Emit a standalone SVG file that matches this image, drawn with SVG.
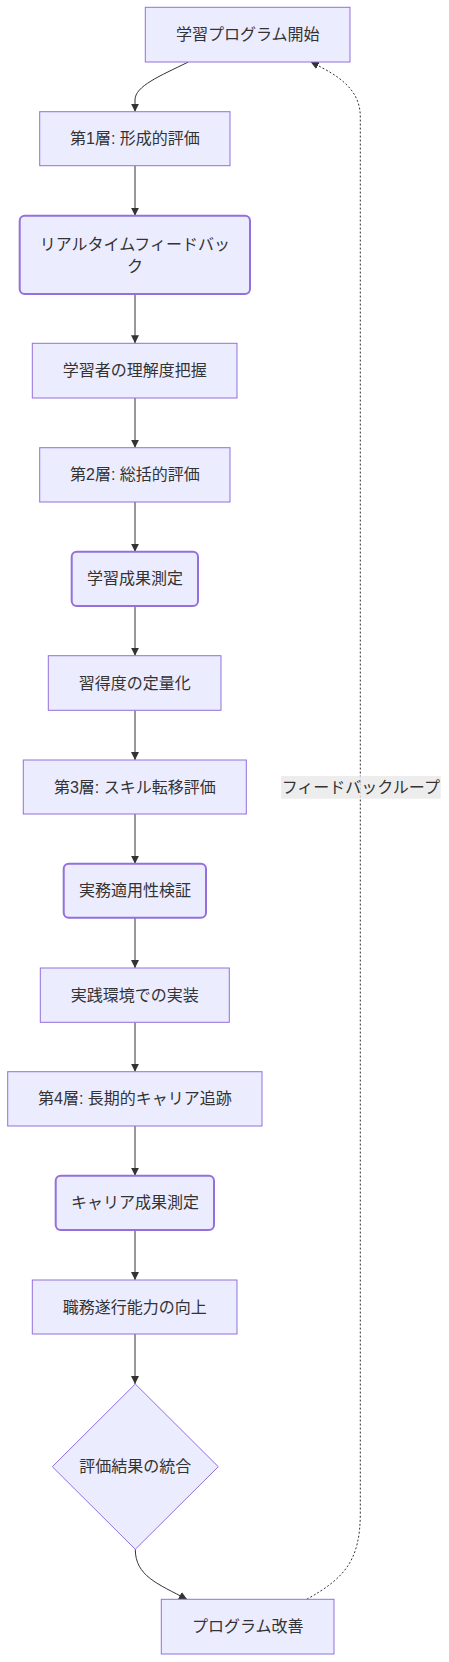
<svg xmlns="http://www.w3.org/2000/svg" width="449" height="1662" viewBox="0 0 449 1662">
<style>
.n{fill:#ECECFF;stroke:#9370DB;stroke-width:1}
.r{fill:#ECECFF;stroke:#9370DB;stroke-width:2}
.t{font-family:"Liberation Sans","Noto Sans CJK JP",sans-serif;font-size:16px;fill:#333;text-anchor:middle;dominant-baseline:central}
.e{fill:none;stroke:#333;stroke-width:1}
.d{fill:none;stroke:#333;stroke-width:1;stroke-dasharray:2 2}
</style>
<defs>
<marker id="arr" viewBox="0 0 10 10" refX="10" refY="5" markerWidth="8" markerHeight="8" markerUnits="userSpaceOnUse" orient="auto">
<path d="M0,0 L10,5 L0,10 z" fill="#333"/>
</marker>
</defs>
<rect width="449" height="1662" fill="#fff"/>
<g id="connectors">
<path class="e" d="M188.3,62 C160,76 135,86 135,100 L135,111.7" marker-end="url(#arr)"/>
<path class="e" d="M135,165.7 L135,215.7" marker-end="url(#arr)"/>
<path class="e" d="M135,294 L135,343.3" marker-end="url(#arr)"/>
<path class="e" d="M135,398 L135,447.7" marker-end="url(#arr)"/>
<path class="e" d="M135,502 L135,551.7" marker-end="url(#arr)"/>
<path class="e" d="M135,606 L135,655.7" marker-end="url(#arr)"/>
<path class="e" d="M135,710.3 L135,760" marker-end="url(#arr)"/>
<path class="e" d="M135,814 L135,863.7" marker-end="url(#arr)"/>
<path class="e" d="M135,917.7 L135,968" marker-end="url(#arr)"/>
<path class="e" d="M135,1022.3 L135,1071.7" marker-end="url(#arr)"/>
<path class="e" d="M135,1126 L135,1175.7" marker-end="url(#arr)"/>
<path class="e" d="M135,1230 L135,1280" marker-end="url(#arr)"/>
<path class="e" d="M135,1334 L135,1384" marker-end="url(#arr)"/>
<path class="e" d="M135.3,1549.3 C135.3,1576 158,1584 187,1599.3" marker-end="url(#arr)"/>
<path class="d" d="M306.7,1599.3 C345,1578 360.3,1560 360.3,1513 L360.3,117 C360.3,90 340,76 310.7,62" marker-end="url(#arr)"/>
<g id="edge-label">
<rect x="281" y="776" width="159.7" height="22.7" fill="#e8e8e8" fill-opacity="0.8"/>
<text class="t" x="360.8" y="787.3">フィードバックループ</text>
</g>
</g>
<g id="n1"><rect class="n" x="145.3" y="7.3" width="204.7" height="54.7"/><text class="t" x="247.7" y="34.7">学習プログラム開始</text></g>
<g id="n2"><rect class="n" x="39.7" y="111.7" width="190.3" height="54"/><text class="t" x="134.9" y="138.7">第1層: 形成的評価</text></g>
<g id="n3"><rect class="r" x="19.7" y="215.7" width="230.3" height="78.3" rx="5"/><text class="t" x="134.9" y="244">リアルタイムフィードバッ</text><text class="t" x="134.9" y="266.5">ク</text></g>
<g id="n4"><rect class="n" x="32.3" y="343.3" width="204.7" height="54.7"/><text class="t" x="134.7" y="370.7">学習者の理解度把握</text></g>
<g id="n5"><rect class="n" x="39.7" y="447.7" width="190.3" height="54.3"/><text class="t" x="134.9" y="474.9">第2層: 総括的評価</text></g>
<g id="n6"><rect class="r" x="71.7" y="551.7" width="126.3" height="54.3" rx="5"/><text class="t" x="134.9" y="578.9">学習成果測定</text></g>
<g id="n7"><rect class="n" x="48.3" y="655.7" width="172.7" height="54.6"/><text class="t" x="134.7" y="683">習得度の定量化</text></g>
<g id="n8"><rect class="n" x="23.3" y="760" width="223" height="54"/><text class="t" x="134.8" y="787">第3層: スキル転移評価</text></g>
<g id="n9"><rect class="r" x="63.7" y="863.7" width="142.3" height="54" rx="5"/><text class="t" x="134.9" y="890.7">実務適用性検証</text></g>
<g id="n10"><rect class="n" x="40.3" y="968" width="189" height="54.3"/><text class="t" x="134.8" y="995.2">実践環境での実装</text></g>
<g id="n11"><rect class="n" x="7.7" y="1071.7" width="254.3" height="54.3"/><text class="t" x="134.9" y="1098.9">第4層: 長期的キャリア追跡</text></g>
<g id="n12"><rect class="r" x="55.7" y="1175.7" width="158.3" height="54.3" rx="5"/><text class="t" x="134.9" y="1202.9">キャリア成果測定</text></g>
<g id="n13"><rect class="n" x="32.3" y="1280" width="204.7" height="54"/><text class="t" x="134.7" y="1307">職務遂行能力の向上</text></g>
<g id="n14"><polygon class="n" points="135.3,1384 218.3,1466.7 135.3,1549.3 52.3,1466.7"/><text class="t" x="135.3" y="1466.7">評価結果の統合</text></g>
<g id="n15"><rect class="n" x="161.3" y="1599.3" width="172.7" height="54.7"/><text class="t" x="247.7" y="1626.7">プログラム改善</text></g>
</svg>
